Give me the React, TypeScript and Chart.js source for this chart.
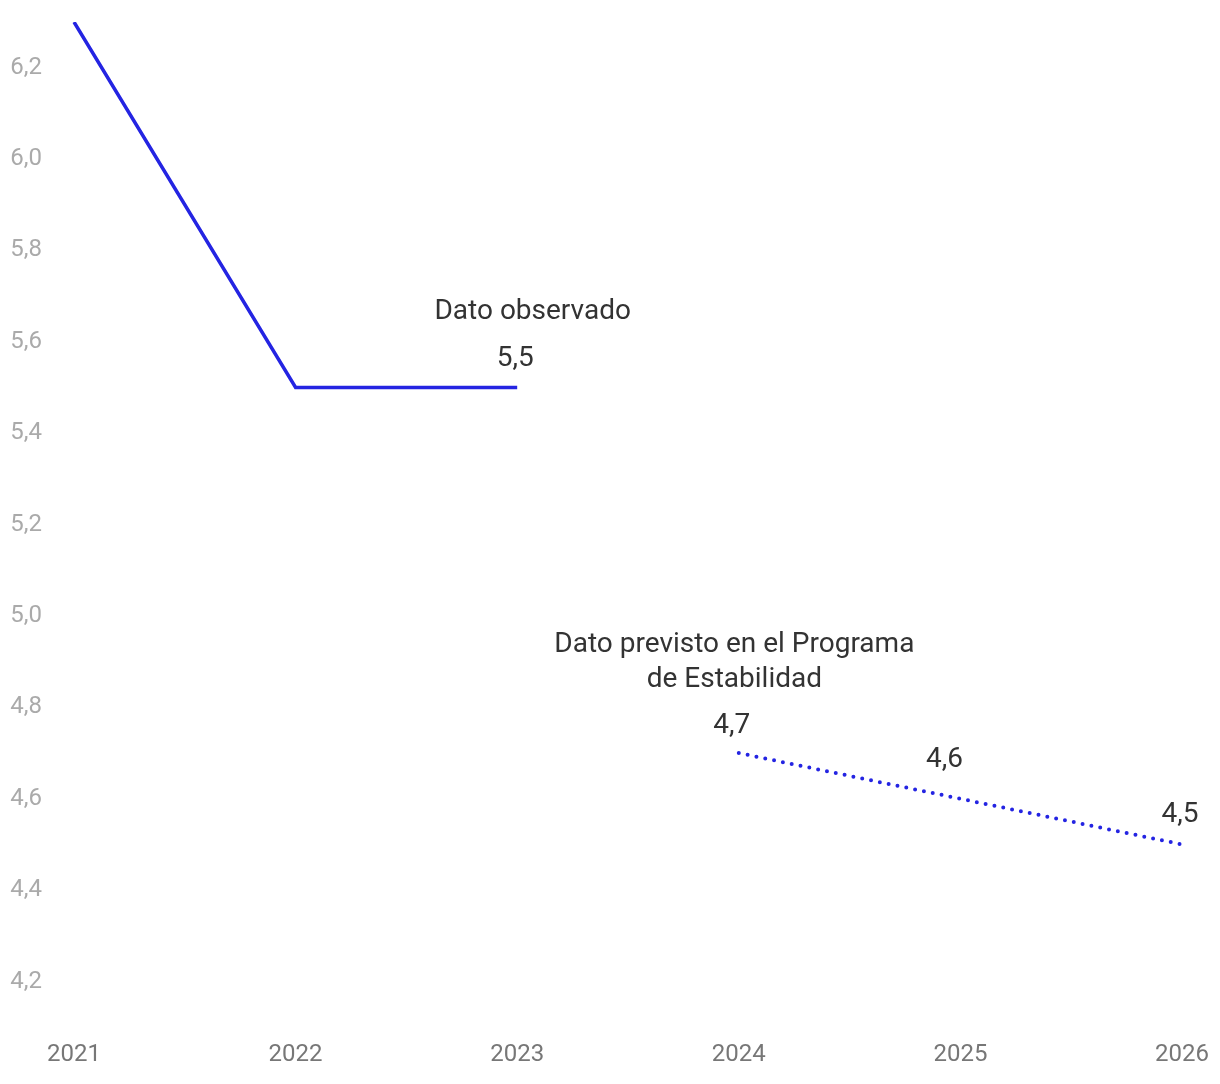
import React, { useEffect, useRef } from "react";
import { Chart, registerables } from "chart.js";

Chart.register(...registerables);

const years = ["2021", "2022", "2023", "2024", "2025", "2026"];
const observed = [6.3, 5.5, 5.5, null, null, null];
const forecast = [null, null, null, 4.7, 4.6, 4.5];
const yTicks = [4.2, 4.4, 4.6, 4.8, 5.0, 5.2, 5.4, 5.6, 5.8, 6.0, 6.2];
const valueLabels = [
  { index: 2, value: 5.5, dx: -2, dy: -29 },
  { index: 3, value: 4.7, dx: -7, dy: -27 },
  { index: 4, value: 4.6, dx: -16, dy: -39 },
  { index: 5, value: 4.5, dx: -2, dy: -29 },
];
const annotations = [
  { x: 2.07, y: 5.666, lines: ["Dato observado"] },
  { x: 2.98, y: 4.936, lines: ["Dato previsto en el Programa", "de Estabilidad"] },
];

const fmt = (v: number) => v.toFixed(1).replace(".", ",");

const labelPlugin = {
  id: "labels",
  afterDatasetsDraw(chart: any) {
    const ctx = chart.ctx;
    const xs = chart.scales.x;
    const ys = chart.scales.y;
    ctx.save();
    ctx.fillStyle = "#333333";
    ctx.textAlign = "center";
    ctx.textBaseline = "middle";
    ctx.font = "28px Roboto";
    for (const l of valueLabels) {
      const px = xs.getPixelForValue(l.index);
      const py = ys.getPixelForValue(l.value);
      ctx.fillText(fmt(l.value), px + l.dx, py + l.dy);
    }
    ctx.font = "28px Roboto";
    for (const a of annotations) {
      const px = xs.getPixelForValue(a.x);
      const py = ys.getPixelForValue(a.y);
      a.lines.forEach((t, i) => ctx.fillText(t, px, py + i * 35));
    }
    ctx.restore();
  },
};

export default function App() {
  const ref = useRef<HTMLCanvasElement>(null);
  useEffect(() => {
    const chart = new Chart(ref.current!, {
      type: "line",
      data: {
        labels: years,
        datasets: [
          {
            data: observed,
            borderColor: "#2424e2",
            borderWidth: 3.5,
            pointRadius: 0,
            spanGaps: false,
          },
          {
            data: forecast,
            borderColor: "#2424e2",
            borderWidth: 4,
            pointRadius: 0,
            borderDash: [0, 9],
            borderCapStyle: "round",
          },
        ],
      },
      options: {
        animation: false,
        responsive: true,
        maintainAspectRatio: false,
        layout: { padding: { left: 0, right: 38, top: 22, bottom: 2 } },
        plugins: { legend: { display: false }, tooltip: { enabled: false } },
        scales: {
          x: {
            grid: { display: false, drawTicks: false },
            border: { display: false },
            afterFit: (s: any) => {
              s.paddingLeft = 0;
              s.paddingRight = 0;
            },
            ticks: {
              color: "#777777",
              font: { family: "Roboto", size: 24 },
              padding: 13,
              maxRotation: 0,
            },
          },
          y: {
            min: 4.1,
            max: 6.3,
            grid: { display: false, drawTicks: false },
            border: { display: false },
            afterFit: (s: any) => {
              s.width = 74;
              s.paddingTop = 0;
              s.paddingBottom = 0;
            },
            afterBuildTicks: (s: any) => {
              s.ticks = yTicks.map((v) => ({ value: v }));
            },
            ticks: {
              color: "#aaaaaa",
              font: { family: "Roboto", size: 24 },
              padding: 32,
              callback: (v: any) => fmt(Number(v)),
            },
          },
        },
      },
      plugins: [labelPlugin],
    });
    return () => chart.destroy();
  }, []);
  return (
    <div style={{ position: "absolute", left: 0, top: 0, width: 1220, height: 1084 }}>
      <canvas ref={ref} />
    </div>
  );
}
